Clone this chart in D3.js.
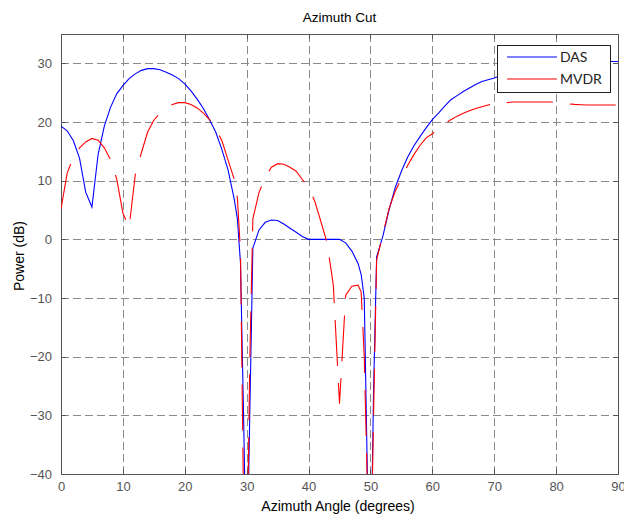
<!DOCTYPE html>
<html lang="en">
<head>
<meta charset="utf-8">
<title>Azimuth Cut</title>
<script src="https://cdn.jsdelivr.net/npm/d3@7"></script>
<style>
  body { margin: 0; background: #fff; }
  .axis text { font-family: "Liberation Sans", Arial, sans-serif; font-size: 13px; fill: #555; }
  .axis path, .axis line { stroke: #555; shape-rendering: crispEdges; }
  .grid line { stroke: #8a8a8a; stroke-dasharray: 8,4; shape-rendering: crispEdges; }
</style>
</head>
<body>
<script>
// Azimuth angles (degrees) sampled for both beamformers
var angles = [0,1,2,3,4,5,6,7,8,9,10,11,12,13,14,15,16,17,18,19,20,21,22,23,24,25,26,27,28,28.5,29,29.5,30,30.5,31,
  32,33,34,35,36,37,38,39,40,41,42,43,44,45,46,47,48,48.5,49,49.5,50,50.5,51,
  52,53,54,55,56,57,58,59,60,61,62,63,64,65,66,67,68,69,70,71,72,73,74,75,76,77,78,79,80,81,82,83,84,85,86,87,88,89,90];

// Power (dB) - delay and sum
var das = [19.3,18.5,16.8,13.8,8.0,5.5,14.5,19.3,22.5,24.8,26.2,27.4,28.2,28.8,29.1,29.1,28.9,28.5,28.0,27.4,26.5,25.3,23.9,22.3,20.4,18.3,15.3,11.8,6.8,3.5,-4.0,-30,-60,-30,-1.5,
  1.6,2.9,3.3,3.2,2.6,1.9,1.2,0.5,0,0,0,0,0,0,-0.6,-2.0,-4.1,-6,-10,-40,-60,-26,-3,
  0.5,5,8.8,11.6,14,15.9,17.5,19,20.4,21.5,22.7,23.8,24.5,25.2,25.8,26.4,26.9,27.2,27.5,27.9,28.3,28.6,28.9,29.1,29.3,29.5,29.6,29.7,29.8,29.9,30,30.1,30.1,30.2,30.2,30.3,30.3,30.3,30.3];

// Power (dB) - MVDR
var mvdr = [5.2,11.3,14.0,15.6,16.6,17.2,16.9,15.6,13.6,10.3,4.5,2.0,11.0,14.8,18.3,20.3,21.5,22.4,23.0,23.3,23.3,23.0,22.4,21.5,20.4,18.9,16.8,13.5,10.2,7.0,-2,-45,-60,-21,3.5,
  8,10.5,12.3,12.9,12.8,12.3,11.6,10.2,8.9,6.5,3,-0.6,-7.8,-28,-9.5,-8,-7.8,-9,-20,-42,-60,-30,-3.5,
  0.8,5.2,8.2,10.3,12.6,14.4,16,17.3,18,18.9,19.7,20.4,21,21.5,21.9,22.3,22.6,22.9,23.1,23.2,23.3,23.4,23.4,23.4,23.4,23.4,23.4,23.4,23.4,23.3,23.1,23.0,22.95,22.9,22.9,22.9,22.9,22.9,22.9];

var xTicks = [0,10,20,30,40,50,60,70,80,90];
var yTicks = [-40,-30,-20,-10,0,10,20,30];
var seriesNames = ["DAS", "MVDR"];
var seriesColors = ["#0000ff", "#ff0000"];

var w = 624, h = 515;
var plotL = 61, plotR = 618, plotT = 34, plotB = 474;

var x = d3.scaleLinear().domain([0, 90]).range([plotL, plotR]);
var y = d3.scaleLinear().domain([-40, 35]).range([plotB, plotT]);

var svg = d3.select("body").append("svg")
    .attr("width", w)
    .attr("height", h);

// grid
var grid = svg.append("g").attr("class", "grid");
grid.selectAll(".vg").data(xTicks.slice(1, -1)).enter().append("line")
    .attr("x1", function(d){ return Math.round(x(d)) + 0.5; })
    .attr("x2", function(d){ return Math.round(x(d)) + 0.5; })
    .attr("y1", plotT).attr("y2", plotB);
grid.selectAll(".hg").data(yTicks.slice(1)).enter().append("line")
    .attr("y1", function(d){ return Math.round(y(d)) + 0.5; })
    .attr("y2", function(d){ return Math.round(y(d)) + 0.5; })
    .attr("x1", plotL).attr("x2", plotR);

// axes (ticks inside, mirrored on top/right)
svg.append("g").attr("class", "axis")
    .attr("transform", "translate(0," + plotB + ")")
    .call(d3.axisBottom(x).tickValues(xTicks).tickSizeInner(-5).tickSizeOuter(0).tickPadding(8));
svg.append("g").attr("class", "axis")
    .attr("transform", "translate(" + plotL + ",0)")
    .call(d3.axisLeft(y).tickValues(yTicks).tickSizeInner(-5).tickSizeOuter(0).tickPadding(9));
svg.append("g").attr("class", "axis")
    .attr("transform", "translate(0," + plotT + ")")
    .call(d3.axisTop(x).tickValues(xTicks).tickSizeInner(-5).tickSizeOuter(0).tickFormat(""));
svg.append("g").attr("class", "axis")
    .attr("transform", "translate(" + plotR + ",0)")
    .call(d3.axisRight(y).tickValues(yTicks).tickSizeInner(-5).tickSizeOuter(0).tickFormat(""));

// frame
svg.append("rect")
    .attr("x", plotL + 0.5).attr("y", plotT + 0.5)
    .attr("width", plotR - plotL).attr("height", plotB - plotT)
    .attr("fill", "none").attr("stroke", "#555");

// clip
svg.append("clipPath").attr("id", "plotclip")
  .append("rect").attr("x", plotL).attr("y", plotT)
    .attr("width", plotR - plotL).attr("height", plotB - plotT);

var line = d3.line()
    .x(function(d){ return x(d[0]); })
    .y(function(d){ return y(d[1]); });

var plot = svg.append("g").attr("clip-path", "url(#plotclip)");

plot.append("path")
    .datum(angles.map(function(a, i){ return [a, das[i]]; }))
    .attr("d", line)
    .attr("fill", "none")
    .attr("stroke", seriesColors[0])
    .attr("stroke-width", 1.1);

plot.append("path")
    .datum(angles.map(function(a, i){ return [a, mvdr[i]]; }))
    .attr("d", line)
    .attr("fill", "none")
    .attr("stroke", seriesColors[1])
    .attr("stroke-width", 1.1)
    .attr("stroke-dasharray", "46,17");

// title and labels
svg.append("text")
    .attr("x", (plotL + plotR) / 2).attr("y", 22)
    .attr("text-anchor", "middle")
    .style("font-family", "'Liberation Sans', Arial, sans-serif")
    .style("font-size", "13.5px")
    .text("Azimuth Cut");

svg.append("text")
    .attr("x", 338).attr("y", 511)
    .attr("text-anchor", "middle")
    .style("font-family", "'Liberation Sans', Arial, sans-serif")
    .style("font-size", "14px")
    .text("Azimuth Angle (degrees)");

svg.append("text")
    .attr("transform", "translate(24,256) rotate(-90)")
    .attr("text-anchor", "middle")
    .style("font-family", "'Liberation Sans', Arial, sans-serif")
    .style("font-size", "14px")
    .text("Power (dB)");

// legend
var legend = svg.append("g").attr("transform", "translate(497,45)");
legend.append("rect")
    .attr("x", 0.5).attr("y", 0.5)
    .attr("width", 113).attr("height", 47)
    .attr("fill", "#fff").attr("stroke", "#222").attr("stroke-width", 1);
seriesNames.forEach(function(name, i){
    var ly = 12 + i * 22;
    legend.append("line")
        .attr("x1", 10).attr("x2", 60)
        .attr("y1", ly).attr("y2", ly)
        .attr("stroke", seriesColors[i]).attr("stroke-width", 1.2);
    legend.append("text")
        .attr("x", 63).attr("y", ly + 5)
        .style("font-family", "Lato, 'Open Sans', sans-serif")
        .style("font-size", "14px")
        .attr("fill", "#222")
        .text(name);
});
</script>
</body>
</html>
